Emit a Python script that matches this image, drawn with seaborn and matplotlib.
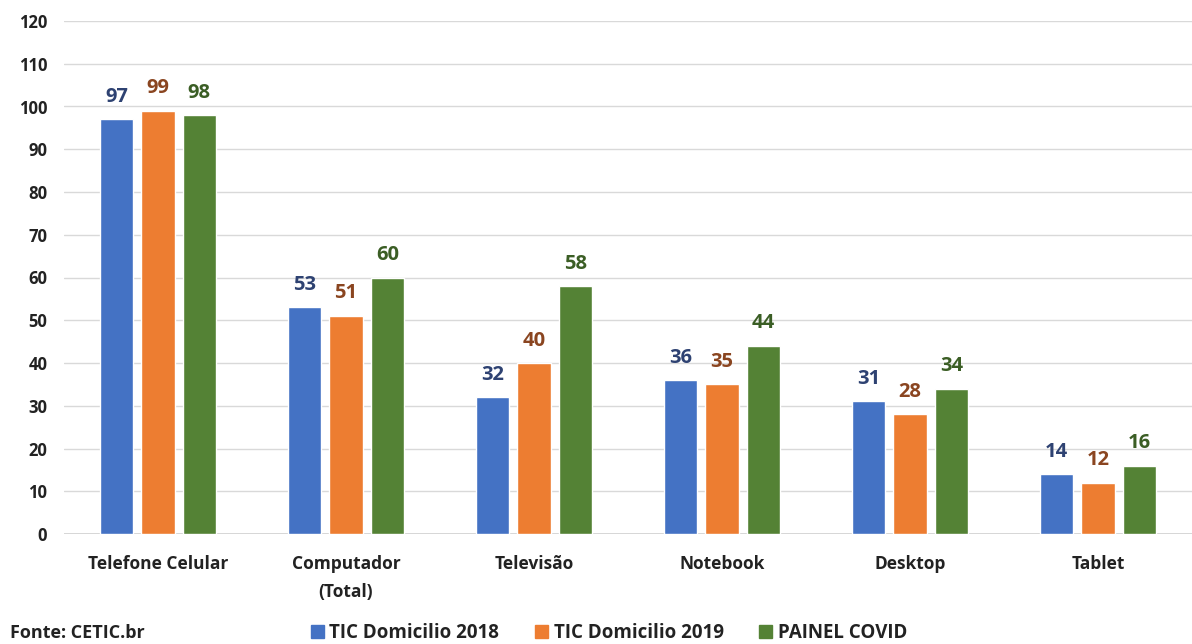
import matplotlib
matplotlib.use("Agg")
import matplotlib.pyplot as plt
import seaborn as sns
import pandas as pd

# Devices present in households (%), by survey
categories = ["Telefone Celular", "Computador\n(Total)", "Televisão", "Notebook", "Desktop", "Tablet"]
series_names = ["TIC Domicilio 2018", "TIC Domicilio 2019", "PAINEL COVID"]
tic_2018 = [97, 53, 32, 36, 31, 14]
tic_2019 = [99, 51, 40, 35, 28, 12]
painel_covid = [98, 60, 58, 44, 34, 16]
y_ticks = list(range(0, 121, 10))

bar_colors = ["#4472C4", "#ED7D31", "#548235"]
label_colors = ["#2E4272", "#8A4520", "#3B5E25"]

rows = []
for name, values in zip(series_names, [tic_2018, tic_2019, painel_covid]):
    for cat, v in zip(categories, values):
        rows.append({"categoria": cat, "serie": name, "valor": v})
df = pd.DataFrame(rows)

sns.set_theme(style="white")
plt.rcParams["font.family"] = ["Open Sans", "DejaVu Sans"]
plt.rcParams["font.weight"] = "bold"

fig = plt.figure(figsize=(11.92, 6.44), dpi=100)
ax = fig.add_axes([64 / 1192, 110 / 644, 1 - 64 / 1192, (534 - 21) / 644])

sns.barplot(data=df, x="categoria", y="valor", hue="serie", order=categories,
            hue_order=series_names, palette=bar_colors, width=0.66, gap=0.2,
            saturation=1, ax=ax, legend=False)

for container, color in zip(ax.containers, label_colors):
    ax.bar_label(container, padding=9, color=color, fontsize=14.5, fontweight="bold")

ax.set_ylim(0, 120)
ax.set_xlim(-0.5, len(categories) - 0.5)
ax.set_yticks(y_ticks)
ax.yaxis.grid(True, color="#d9d9d9", linewidth=1)
ax.set_axisbelow(True)
ax.axhline(0, color="#d0d0d0", linewidth=1.2, zorder=0.5)
for s in ax.spines.values():
    s.set_visible(False)
ax.set_xlabel("")
ax.set_ylabel("")
ax.tick_params(axis="y", length=0, pad=12, labelsize=12, labelcolor="#222222")
ax.tick_params(axis="x", length=0, pad=15, labelsize=12.5, labelcolor="#222222")
for t in ax.get_xticklabels():
    t.set_fontweight("bold")
    t.set_linespacing(1.75)
for t in ax.get_yticklabels():
    t.set_fontweight("bold")

handles = [plt.Rectangle((0, 0), 1, 1, color=c) for c in bar_colors]
fig.legend(handles, series_names, loc="center", bbox_to_anchor=(609 / 1192, 11 / 644),
           ncol=3, frameon=False, handlelength=0.7, handleheight=0.7,
           handletextpad=0.3, columnspacing=1.9,
           prop={"size": 13.5, "weight": "bold"}, labelcolor="#222222")

fig.text(10 / 1192, 11 / 644, "Fonte: CETIC.br", ha="left", va="center",
         fontsize=13, fontweight="bold", color="#222222")

fig.savefig("out.png", dpi=100)
